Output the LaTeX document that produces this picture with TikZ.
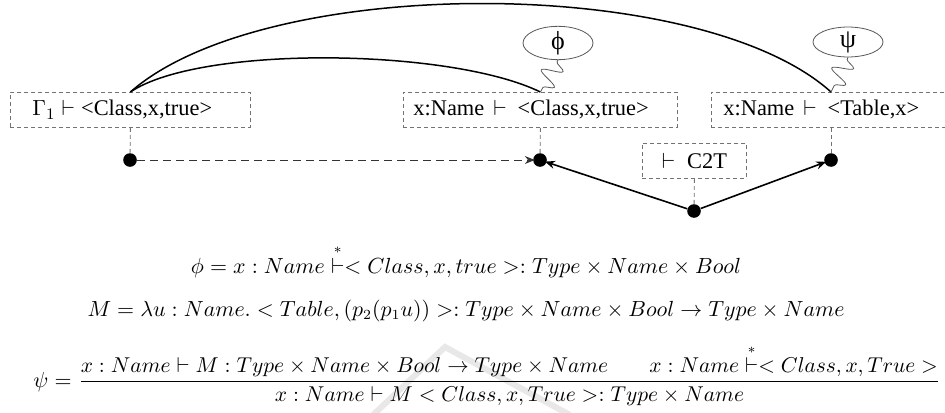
\documentclass[tikz,border=0pt]{standalone}
\usepackage{amsmath}
\usepackage{graphicx}
\usepackage{fontspec}
\newfontfamily\timesf{Liberation Serif}
\usetikzlibrary{arrows.meta,decorations.pathmorphing,shapes.geometric}
\begin{document}
\begin{tikzpicture}[x=0.5pt,y=-0.5pt,
  box/.style={draw=black!55, dash pattern=on 2pt off 1.5pt, line width=0.4pt,
    inner xsep=0pt, inner ysep=0pt, minimum height=17.5pt,
    font=\timesf\fontsize{11.2}{13}\selectfont},
  dot/.style={circle, fill=black, inner sep=0pt, minimum size=6.8pt},
  link/.style={line width=0.8pt, -{Stealth[length=5pt,width=4pt]}, shorten >=-1pt},
  drop/.style={draw=black!55, dash pattern=on 2pt off 1.5pt, line width=0.4pt},
  longdash/.style={black!80, dash pattern=on 4pt off 2.5pt, line width=0.5pt,
    -{Stealth[length=5pt,width=4pt]}, shorten >=-1pt},
  arc/.style={line width=0.75pt},
  bubble/.style={ellipse, draw=black!65, line width=0.4pt, inner sep=0pt,
    minimum width=35pt, minimum height=12pt, font=\timesf\fontsize{13}{14}\selectfont},
  squig/.style={draw=black!65, line width=0.4pt, decorate,
    decoration={snake, amplitude=5pt, segment length=9pt, pre length=1pt, post length=1pt}},
  formula/.style={inner sep=0pt, font=\fontsize{10.5}{12}\selectfont}
]
\fill[white] (0,0) rectangle (945,412);
\useasboundingbox (0,0) rectangle (945,412);

% faint watermark
\draw[black!9, line width=3pt] (373,415) -- (445,347) -- (570,415);

% boxes
\node[box, anchor=north west] (b1) at (10,92)
  {\makebox[120pt][l]{\hspace{11pt}$\Gamma_1\vdash\;$<Class,x,true>}};
\node[box, anchor=north west] (b2) at (403,92)
  {\makebox[137pt][l]{\hspace{5pt}x:Name\hspace{4.5pt}$\vdash$\hspace{5.5pt}<Class,x,true>}};
\node[box, anchor=north west] (b3) at (711,92)
  {\makebox[130pt][l]{\hspace{6pt}x:Name\hspace{4.5pt}$\vdash$\hspace{5.5pt}<Table,x>}};
\node[box, anchor=north west] (c2t) at (642,143)
  {\makebox[52pt]{$\vdash$\hspace{6pt}C2T}};

% dots
\node[dot] (d1) at (130,160) {};
\node[dot] (d2) at (540,160) {};
\node[dot] (d3) at (831,160) {};
\node[dot] (d4) at (694,211) {};

% dashed drops
\draw[drop] (b1.south) -- (d1);
\draw[drop] (b2.south) -- (d2);
\draw[drop] (d3 |- b3.south) -- (d3);
\draw[drop] (c2t.south) -- (d4);

% connectors
\draw[longdash] (d1) -- (d2);
\draw[link] (d4) -- (d2);
\draw[link] (d4) -- (d3);

% arcs
\coordinate (t3) at (d3 |- b3.north);
\draw[arc] (b1.north) .. controls (200,45) and (450,48) .. (b2.north);
\draw[arc] (b1.north) .. controls (265,-26) and (700,-26) .. (t3);

% bubbles
\node[bubble] (e1) at (558,43) {ϕ};
\node[bubble] (e2) at (848,42) {ψ};
\draw[squig] (e1.south) -- (b2.north);
\draw[squig] (e2.south) -- (t3);

% formulas
\node[formula, anchor=base] (f1) at (466,273)
  {\resizebox{275pt}{!}{$\phi = x : Name \stackrel{*}{\vdash} < Class, x, true >: Type \times Name \times Bool$}};
\node[formula, anchor=base] (f2) at (466,316)
  {\resizebox{378.5pt}{!}{$M = \lambda u : Name. < Table, (p_2(p_1 u)) >: Type \times Name \times Bool \to Type \times Name$}};
\node[formula, anchor=base west] (f3a) at (33,387) {$\psi =$};
\node[formula, anchor=base west] (f3) at (78,387)
  {\resizebox{431pt}{!}{$\displaystyle \frac{x : Name \vdash M : Type \times Name \times Bool \to Type \times Name \qquad x : Name \stackrel{*}{\vdash} < Class, x, True >}{x : Name \vdash M < Class, x, True >: Type \times Name}$}};
\end{tikzpicture}
\end{document}
